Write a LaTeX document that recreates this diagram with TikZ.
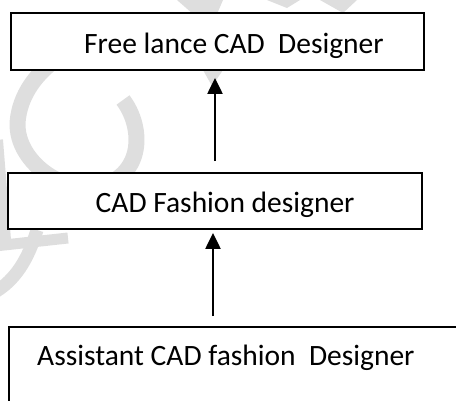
\documentclass[tikz,border=0pt]{standalone}
\usepackage{fontspec}
\setmainfont{Carlito}
\usetikzlibrary{arrows.meta,calc}
\definecolor{wm}{RGB}{222,222,222}
\tikzset{
  box/.style={draw=black, line width=1.8pt, fill=white, rectangle, inner sep=0pt},
  lbl/.style={inner sep=0pt, anchor=base west, font=\fontsize{29.5}{34}\selectfont},
  arr/.style={line width=2.2pt, -{Triangle[length=16pt,width=15pt]}}
}
\begin{document}
\begin{tikzpicture}[x=1pt,y=-1pt]
\useasboundingbox (0,0) rectangle (456,400);
% watermark
\draw[wm, line width=16pt] (123,100) .. controls (142,125) and (145,170) .. (105,185)
   .. controls (65,198) and (12,160) .. (18,118) .. controls (22,90) and (40,70) .. (62,55);
\draw[wm, line width=16pt] (-5,140) -- (3,240);
\draw[wm, line width=11pt] (-5,246) -- (68,238);
\draw[wm, line width=13pt] (37,230) .. controls (28,260) and (15,280) .. (-5,292);
\fill[wm] (177,0) -- (223,0) -- (217,14) -- (193,14) -- cycle;
\fill[wm] (267,0) -- (300,0) -- (287,8) -- cycle;
\fill[wm] (320,0) -- (357,0) -- (343,13) -- cycle;
\fill[wm] (203,70) -- (223,70) -- (212,86) -- cycle;
% boxes
\node[box, minimum width=413pt, minimum height=57pt] (top) at (217.5,41.5) {};
\node[box, minimum width=414pt, minimum height=56pt] (mid) at (215,201) {};
\node[box, minimum width=461pt, minimum height=93pt] (bot) at (239.5,373.5) {};
% texts
\node[lbl] (t1) at (84,53) {Free lance CAD\ \ Designer};
\node[lbl] (t2) at (95.5,212) {CAD Fashion designer};
\node[lbl] (t3) at (37,365) {Assistant CAD fashion\ \ Designer};
% arrows
\draw[arr] ($(mid.north)+(0,-11)$) -- ($(mid.north |- top.south)+(0,7)$);
\draw[arr] ($(mid.south |- bot.north)+(-2,-10)$) -- ($(mid.south)+(-2,3)$);
\end{tikzpicture}
\end{document}
